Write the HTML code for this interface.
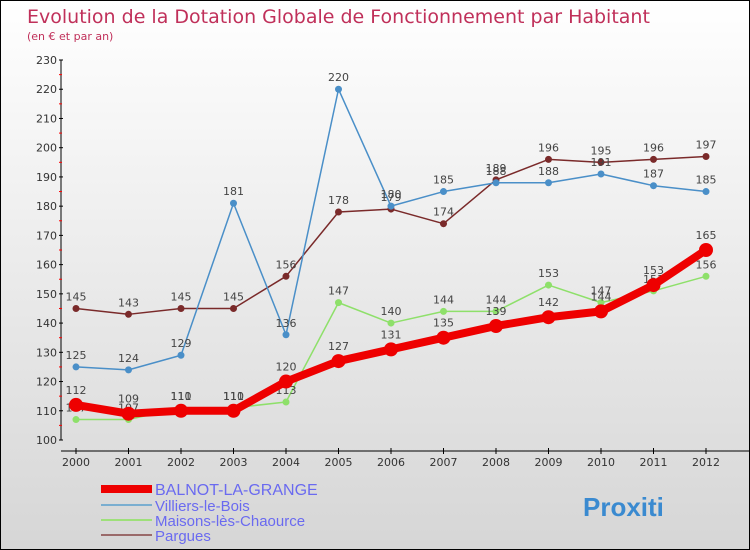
<!DOCTYPE html>
<html><head><meta charset="utf-8"><style>
body{margin:0}
#c{width:748px;height:548px;border:1px solid #000;background:linear-gradient(#fff,#d6d6d6);position:relative;font-family:"DejaVu Sans","Liberation Sans",sans-serif;overflow:hidden}
</style></head><body>
<div id="c">
<svg id="s" width="748" height="548" xmlns="http://www.w3.org/2000/svg"></svg>
</div>
<script>
const years=[2000,2001,2002,2003,2004,2005,2006,2007,2008,2009,2010,2011,2012];
const balnot=[112,109,110,110,120,127,131,135,139,142,144,153,165];
const villiers=[125,124,129,181,136,220,180,185,188,188,191,187,185];
const maisons=[107,107,111,111,113,147,140,144,144,153,147,151,156];
const pargues=[145,143,145,145,156,178,179,174,189,196,195,196,197];
const yTicks=[100,110,120,130,140,150,160,170,180,190,200,210,220,230];
const seriesNames=["BALNOT-LA-GRANGE","Villiers-le-Bois","Maisons-lès-Chaource","Pargues"];
const NS="http://www.w3.org/2000/svg";
const s=document.getElementById('s');
function X(i){return 75+i*52.5;}
function Y(v){return 439-(v-100)*2.923;}
function el(t,a,txt){const e=document.createElementNS(NS,t);for(const k in a)e.setAttribute(k,a[k]);if(txt!==undefined)e.textContent=txt;s.appendChild(e);return e;}
let e;
e=el('text',{x:26,y:22,fill:'#c0305a','font-size':19},'Evolution de la Dotation Globale de Fonctionnement par Habitant');


e=el('text',{x:26,y:39,fill:'#c0305a','font-size':11},'(en € et par an)');


// y axis
e=el('line',{x1:60,y1:Y(230),x2:60,y2:Y(100),stroke:'#000','stroke-width':1});


yTicks.forEach((v,i)=>{
  el('line',{x1:58,y1:Y(v),x2:62,y2:Y(v),stroke:'#000'});
  if(i<yTicks.length-1)el('line',{x1:58,y1:Y(v+5),x2:61,y2:Y(v+5),stroke:'#f00'});
  e=el('text',{x:56,y:Y(v)+4,'text-anchor':'end','font-size':11,fill:'#333'},v);
  
  
});
// x axis
e=el('line',{x1:60,y1:450,x2:748,y2:450,stroke:'#000'});


years.forEach((y,i)=>{
  el('line',{x1:X(i),y1:447,x2:X(i),y2:453,stroke:'#000'});
  e=el('text',{x:X(i),y:465,'text-anchor':'middle','font-size':11,fill:'#333'},y);
  
  
});
function series(d,color,w,r,name,labelDy){
  const pts=d.map((v,i)=>X(i)+','+Y(v)).join(' ');
  let p=el('polyline',{points:pts,fill:'none',stroke:color,'stroke-width':w,'stroke-linejoin':'round'});
  
  
  d.forEach((v,i)=>{
    let c=el('circle',{cx:X(i),cy:Y(v),r:r,fill:color.dot||color,stroke:'none'});
    
    
    let t=el('text',{x:X(i),y:Y(v)-labelDy,'text-anchor':'middle','font-size':11,fill:'#444'},v);
    
    
  });
}
series(pargues,'#7a2a2a',1.5,3.5,'pargues',8);
series(villiers,'#4a8fc8',1.5,3.5,'villiers',8);
series(maisons,'#8ee06a',1.5,3.5,'maisons',8);
series(balnot,'#ee0000',8,7,'balnot',11);
// legend
const lc=['#ee0000','#7aaed0','#9ee07a','#9a6a6a'],lw=[8,2,2,2],ly=[492,508,523,538],fs=[16,15,15,15];
seriesNames.forEach((n,i)=>{
  let l=el('line',{x1:100,y1:ly[i]-4,x2:151,y2:ly[i]-4,stroke:lc[i],'stroke-width':lw[i]});
  
  
  let t=el('text',{x:154,y:ly[i]+2,'font-size':fs[i],fill:'#6a6af0','font-family':'Liberation Sans, sans-serif'},n);
  
  
});
e=el('text',{x:582,y:515,'font-size':26,'font-weight':'bold',fill:'#3a8ad0','font-family':'Liberation Sans, sans-serif'},'Proxiti');


</script>
</body></html>
